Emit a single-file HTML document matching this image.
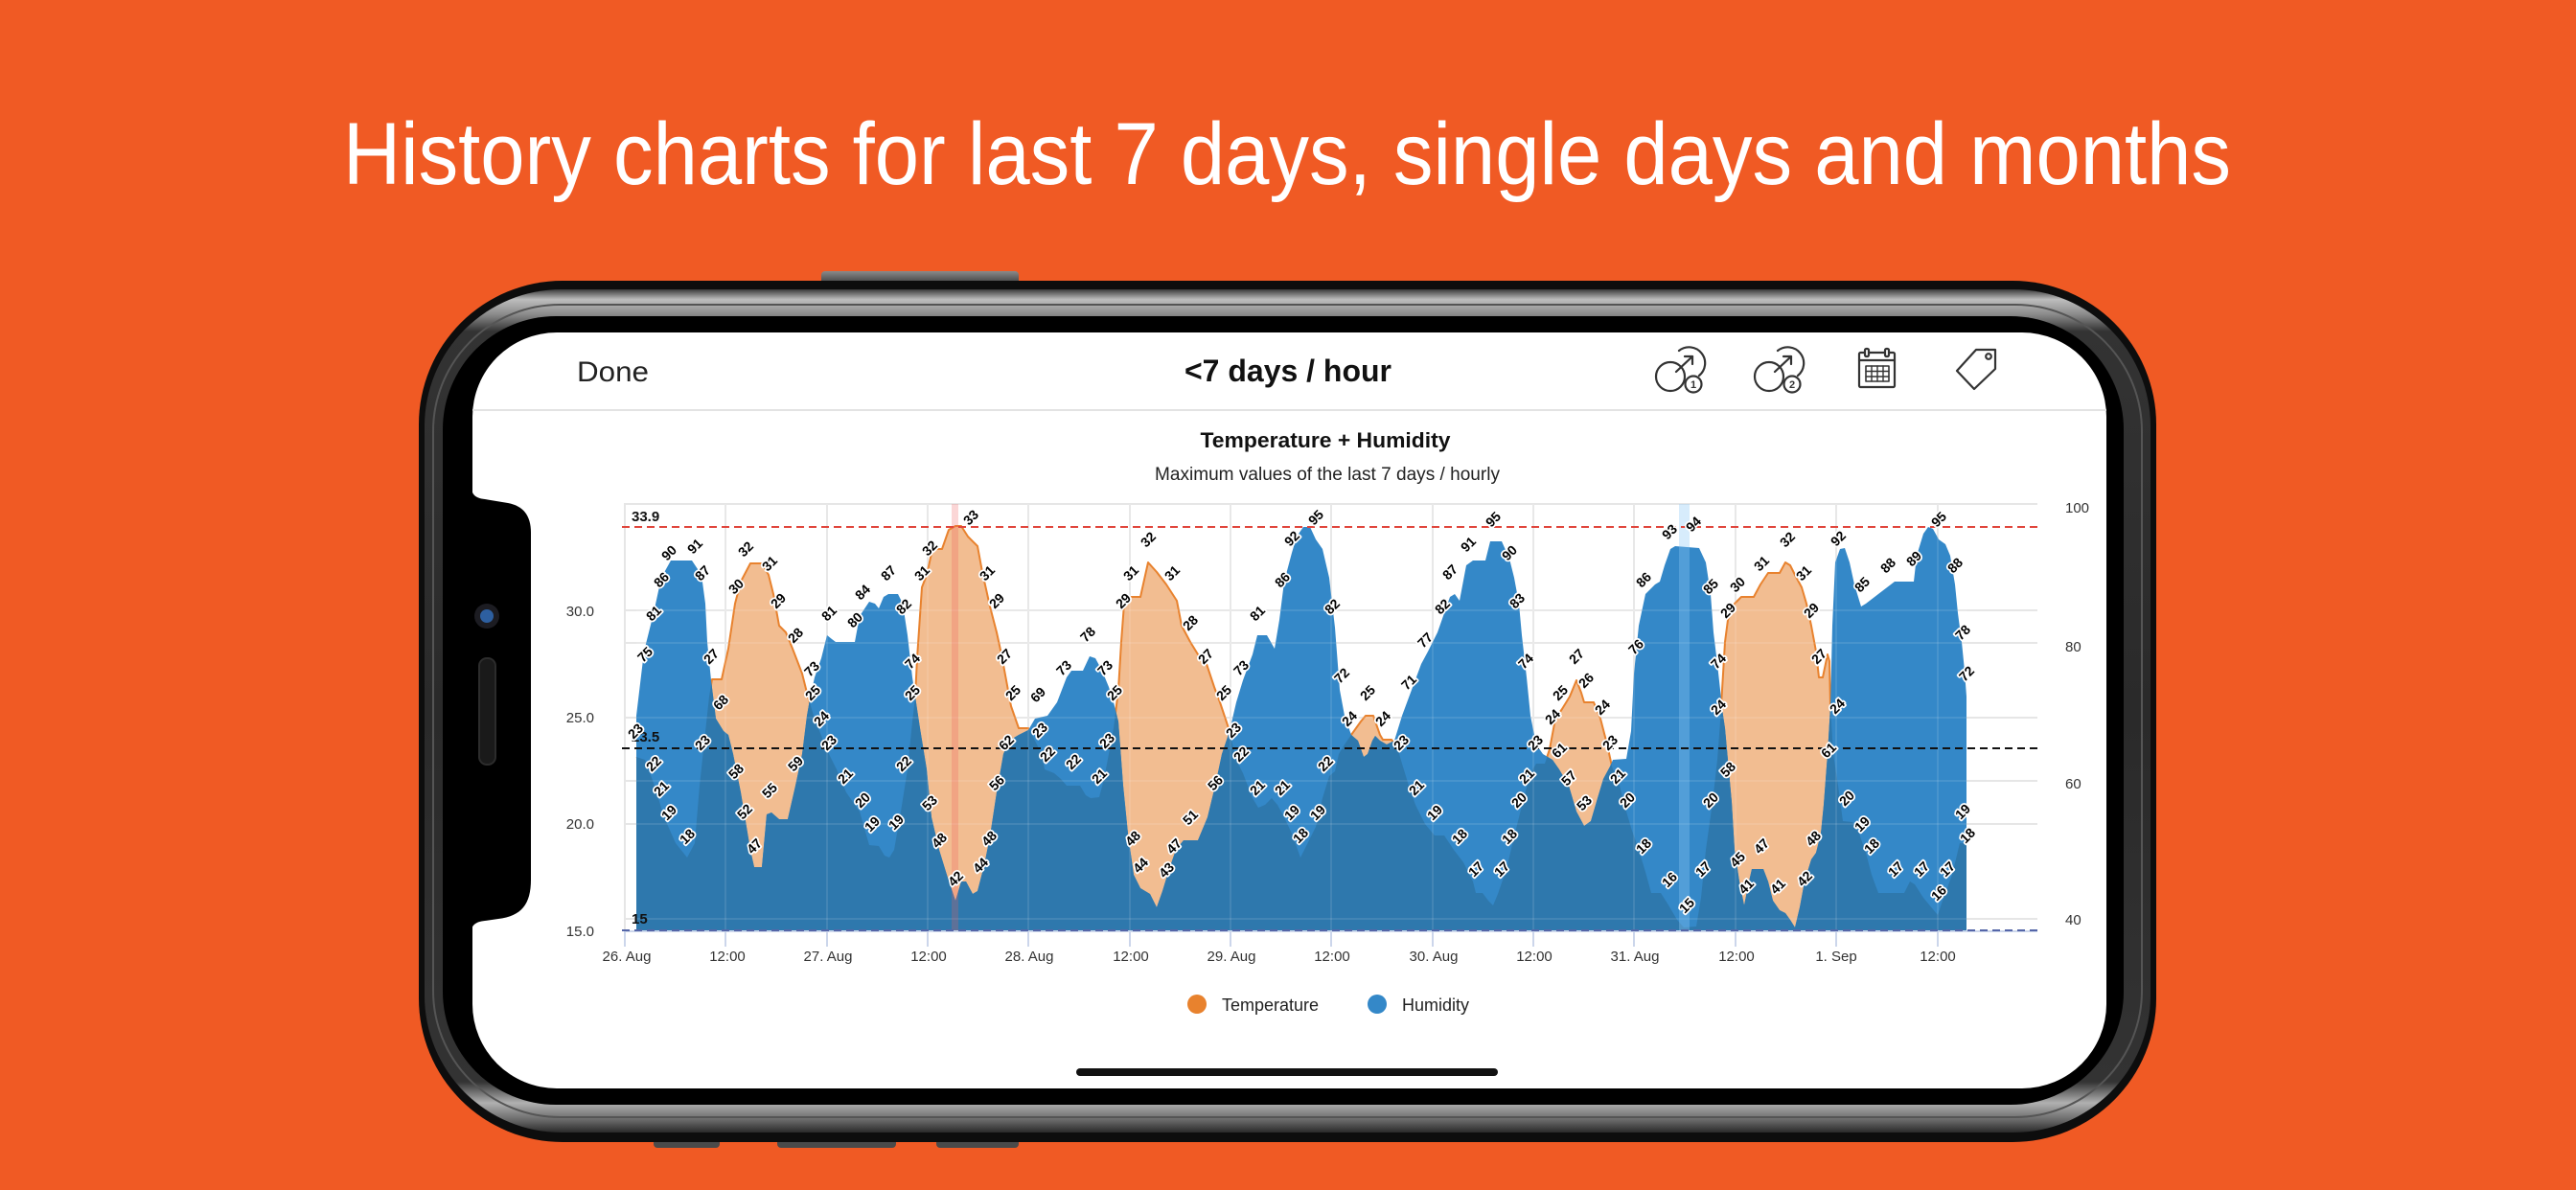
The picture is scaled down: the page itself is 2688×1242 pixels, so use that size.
<!DOCTYPE html>
<html>
<head>
<meta charset="utf-8">
<style>
html,body{margin:0;padding:0;background:#F05A24;}
body{width:2688px;height:1242px;overflow:hidden;}
svg{display:block;}
.dl text{font-family:"Liberation Sans",sans-serif;font-weight:bold;font-size:14px;fill:#000;stroke:#fff;stroke-width:3.5px;paint-order:stroke;stroke-linejoin:round;text-anchor:middle;}
.ax{font-family:"Liberation Sans",sans-serif;font-size:15px;fill:#333;}
</style>
</head>
<body>
<svg width="2688" height="1242" viewBox="0 0 2688 1242" xmlns="http://www.w3.org/2000/svg">
<defs>
<linearGradient id="band" x1="0" y1="0" x2="0" y2="1">
<stop offset="0" stop-color="#3a3a3a"/>
<stop offset="0.012" stop-color="#bdbdbd"/>
<stop offset="0.03" stop-color="#8a8a8a"/>
<stop offset="0.05" stop-color="#333"/>
<stop offset="0.5" stop-color="#2a2a2a"/>
<stop offset="0.94" stop-color="#333"/>
<stop offset="0.965" stop-color="#b0b0b0"/>
<stop offset="0.985" stop-color="#6a6a6a"/>
<stop offset="1" stop-color="#2a2a2a"/>
</linearGradient>
<linearGradient id="btn" x1="0" y1="0" x2="0" y2="1">
<stop offset="0" stop-color="#8a8a8a"/>
<stop offset="1" stop-color="#3a3a3a"/>
</linearGradient>
<clipPath id="tc">
<polygon points="664,972 664,790 673,793 683,820 693,853 705,880 717,895 725,880 730,820 735,773 740,727 743,709 753,709 760,677 767,630 773,607 783,588 795,588 802,600 807,620 813,653 820,660 827,677 837,703 843,727 850,750 863,783 873,803 883,827 897,847 907,882 917,883 923,893 928,895 933,887 940,847 947,803 952,753 955,727 957,687 962,613 967,600 973,573 983,573 990,553 997,549 1003,549 1010,560 1017,567 1020,570 1025,597 1033,633 1040,660 1045,683 1050,710 1055,737 1063,760 1073,760 1077,767 1087,787 1090,803 1100,807 1107,813 1113,820 1127,820 1133,830 1138,833 1147,832 1152,813 1157,787 1162,760 1167,720 1170,670 1173,630 1178,623 1190,623 1198,587 1207,597 1217,610 1228,627 1233,653 1242,670 1250,683 1258,690 1267,717 1273,733 1282,760 1290,793 1297,807 1307,833 1313,843 1320,840 1327,833 1333,840 1340,853 1348,870 1357,895 1363,883 1373,863 1380,833 1387,810 1393,805 1397,787 1403,777 1410,767 1420,753 1425,747 1433,747 1440,767 1443,772 1452,772 1458,780 1463,797 1470,820 1477,840 1487,860 1497,872 1507,872 1517,887 1527,900 1537,920 1540,932 1547,932 1553,940 1558,945 1563,933 1572,907 1580,873 1590,833 1597,807 1603,797 1612,797 1617,782 1623,750 1630,740 1638,727 1645,710 1650,723 1653,733 1663,733 1670,750 1677,777 1682,800 1690,820 1697,847 1703,867 1710,887 1717,910 1723,932 1733,932 1740,943 1750,960 1757,968 1770,967 1775,937 1780,887 1787,837 1792,793 1795,753 1797,720 1800,670 1803,647 1810,630 1817,623 1830,623 1837,610 1845,598 1857,598 1863,587 1868,590 1873,600 1880,613 1885,630 1890,653 1895,680 1898,707 1902,707 1907,683 1909,690 1910,737 1913,787 1918,820 1923,857 1933,858 1940,870 1947,890 1953,913 1960,932 1987,932 1993,920 1998,923 2007,937 2022,955 2027,940 2037,913 2045,880 2052,880 2052,972"/>
</clipPath>
</defs>

<!-- background -->
<rect x="0" y="0" width="2688" height="1242" fill="#F05A24"/>

<!-- heading -->
<text x="1343" y="192" font-family="Liberation Sans, sans-serif" font-size="92" fill="#fff" text-anchor="middle" textLength="1970" lengthAdjust="spacingAndGlyphs">History charts for last 7 days, single days and months</text>

<!-- phone buttons -->
<rect x="857" y="283" width="206" height="14" rx="4" fill="url(#btn)"/>
<rect x="682" y="1186" width="69" height="12" rx="4" fill="#4a4a4a"/>
<rect x="811" y="1186" width="124" height="12" rx="4" fill="#4a4a4a"/>
<rect x="977" y="1186" width="86" height="12" rx="4" fill="#4a4a4a"/>

<!-- phone body -->
<rect x="437" y="293" width="1813" height="899" rx="150" fill="#0d0d0d"/>
<rect x="443" y="302" width="1801" height="880" rx="143" fill="url(#band)"/>
<rect x="452" y="318" width="1783" height="848" rx="132" fill="none" stroke="#555" stroke-width="2"/>
<rect x="462" y="330" width="1754" height="823" rx="118" fill="#000"/>
<rect x="493" y="347" width="1705" height="789" rx="88" fill="#fff"/>

<!-- notch -->
<path d="M480,490 L492,490 L492,508 C492,516 496,520 506,521 L530,525 C546,528 554,538 554,556 L554,918 C554,944 544,956 520,959 L506,961 C496,962 492,966 492,972 L480,972 Z" fill="#000"/>
<circle cx="508" cy="643" r="13" fill="#1c1c22"/>
<circle cx="508" cy="643" r="7" fill="#2d5fa0"/>
<rect x="500" y="687" width="17" height="111" rx="8" fill="#1a1a1a" stroke="#2c2c2c" stroke-width="2"/>

<!-- nav bar -->
<text x="602" y="398" font-family="Liberation Sans, sans-serif" font-size="30" fill="#222" textLength="75" lengthAdjust="spacingAndGlyphs">Done</text>
<text x="1344" y="398" font-family="Liberation Sans, sans-serif" font-weight="bold" font-size="32" fill="#111" text-anchor="middle" textLength="216" lengthAdjust="spacingAndGlyphs">&lt;7 days / hour</text>
<line x1="493" y1="428" x2="2198" y2="428" stroke="#e3e3e3" stroke-width="2"/>

<!-- icons -->
<g stroke="#333" stroke-width="2.2" fill="none" stroke-linecap="round" stroke-linejoin="round">
  <path d="M1752,366 A13,13 0 0 1 1773,392"/>
  <circle cx="1743" cy="393" r="15"/>
  <line x1="1749" y1="388" x2="1766" y2="372"/>
  <polyline points="1758,372 1766,372 1766,380"/>
  <circle cx="1767" cy="401" r="8.5" fill="#fff"/>
  <path d="M1855,366 A13,13 0 0 1 1876,392"/>
  <circle cx="1846" cy="393" r="15"/>
  <line x1="1852" y1="388" x2="1869" y2="372"/>
  <polyline points="1861,372 1869,372 1869,380"/>
  <circle cx="1870" cy="401" r="8.5" fill="#fff"/>
  <rect x="1940" y="368" width="37" height="36" rx="1.5"/>
  <line x1="1940" y1="376" x2="1977" y2="376"/>
  <rect x="1946" y="364" width="4" height="8" rx="1.5" fill="#fff"/>
  <rect x="1967" y="364" width="4" height="8" rx="1.5" fill="#fff"/>
  <rect x="1947" y="382" width="24" height="16" stroke-width="1.6"/>
  <line x1="1953" y1="382" x2="1953" y2="398" stroke-width="1.4"/>
  <line x1="1959" y1="382" x2="1959" y2="398" stroke-width="1.4"/>
  <line x1="1965" y1="382" x2="1965" y2="398" stroke-width="1.4"/>
  <line x1="1947" y1="387.5" x2="1971" y2="387.5" stroke-width="1.4"/>
  <line x1="1947" y1="393" x2="1971" y2="393" stroke-width="1.4"/>
  <polygon points="2042,387 2062,365 2082,365 2082,385 2060,406"/>
  <circle cx="2075" cy="372" r="2.8"/>
</g>
<text x="1767" y="405" font-family="Liberation Sans, sans-serif" font-size="11" font-weight="bold" fill="#333" text-anchor="middle">1</text>
<text x="1870" y="405" font-family="Liberation Sans, sans-serif" font-size="11" font-weight="bold" fill="#333" text-anchor="middle">2</text>

<!-- chart titles -->
<text x="1383" y="467" font-family="Liberation Sans, sans-serif" font-weight="bold" font-size="22.5" fill="#111" text-anchor="middle" textLength="261" lengthAdjust="spacingAndGlyphs">Temperature + Humidity</text>
<text x="1385" y="501" font-family="Liberation Sans, sans-serif" font-size="19" fill="#222" text-anchor="middle" textLength="360" lengthAdjust="spacingAndGlyphs">Maximum values of the last 7 days / hourly</text>

<!-- gridlines -->
<g stroke="#e6e6e6" stroke-width="2">
  <line x1="651" y1="526" x2="2126" y2="526"/>
  <line x1="651" y1="637" x2="2126" y2="637"/>
  <line x1="651" y1="671" x2="2126" y2="671"/>
  <line x1="651" y1="749" x2="2126" y2="749"/>
  <line x1="651" y1="815" x2="2126" y2="815"/>
  <line x1="651" y1="860" x2="2126" y2="860"/>
  <line x1="651" y1="959" x2="2126" y2="959"/>
  <line x1="652" y1="526" x2="652" y2="972"/>
  <line x1="757" y1="526" x2="757" y2="972"/>
  <line x1="863" y1="526" x2="863" y2="972"/>
  <line x1="968" y1="526" x2="968" y2="972"/>
  <line x1="1073" y1="526" x2="1073" y2="972"/>
  <line x1="1179" y1="526" x2="1179" y2="972"/>
  <line x1="1284" y1="526" x2="1284" y2="972"/>
  <line x1="1389" y1="526" x2="1389" y2="972"/>
  <line x1="1495" y1="526" x2="1495" y2="972"/>
  <line x1="1600" y1="526" x2="1600" y2="972"/>
  <line x1="1705" y1="526" x2="1705" y2="972"/>
  <line x1="1811" y1="526" x2="1811" y2="972"/>
  <line x1="1916" y1="526" x2="1916" y2="972"/>
  <line x1="2022" y1="526" x2="2022" y2="972"/>
</g>

<!-- temperature area -->
<polygon fill="#F2BD91" points="664,972 664,790 673,793 683,820 693,853 705,880 717,895 725,880 730,820 735,773 740,727 743,709 753,709 760,677 767,630 773,607 783,588 795,588 802,600 807,620 813,653 820,660 827,677 837,703 843,727 850,750 863,783 873,803 883,827 897,847 907,882 917,883 923,893 928,895 933,887 940,847 947,803 952,753 955,727 957,687 962,613 967,600 973,573 983,573 990,553 997,549 1003,549 1010,560 1017,567 1020,570 1025,597 1033,633 1040,660 1045,683 1050,710 1055,737 1063,760 1073,760 1077,767 1087,787 1090,803 1100,807 1107,813 1113,820 1127,820 1133,830 1138,833 1147,832 1152,813 1157,787 1162,760 1167,720 1170,670 1173,630 1178,623 1190,623 1198,587 1207,597 1217,610 1228,627 1233,653 1242,670 1250,683 1258,690 1267,717 1273,733 1282,760 1290,793 1297,807 1307,833 1313,843 1320,840 1327,833 1333,840 1340,853 1348,870 1357,895 1363,883 1373,863 1380,833 1387,810 1393,805 1397,787 1403,777 1410,767 1420,753 1425,747 1433,747 1440,767 1443,772 1452,772 1458,780 1463,797 1470,820 1477,840 1487,860 1497,872 1507,872 1517,887 1527,900 1537,920 1540,932 1547,932 1553,940 1558,945 1563,933 1572,907 1580,873 1590,833 1597,807 1603,797 1612,797 1617,782 1623,750 1630,740 1638,727 1645,710 1650,723 1653,733 1663,733 1670,750 1677,777 1682,800 1690,820 1697,847 1703,867 1710,887 1717,910 1723,932 1733,932 1740,943 1750,960 1757,968 1770,967 1775,937 1780,887 1787,837 1792,793 1795,753 1797,720 1800,670 1803,647 1810,630 1817,623 1830,623 1837,610 1845,598 1857,598 1863,587 1868,590 1873,600 1880,613 1885,630 1890,653 1895,680 1898,707 1902,707 1907,683 1909,690 1910,737 1913,787 1918,820 1923,857 1933,858 1940,870 1947,890 1953,913 1960,932 1987,932 1993,920 1998,923 2007,937 2022,955 2027,940 2037,913 2045,880 2052,880 2052,972"/>
<polyline fill="none" stroke="#E8822E" stroke-width="2" stroke-linejoin="round" points="664,790 673,793 683,820 693,853 705,880 717,895 725,880 730,820 735,773 740,727 743,709 753,709 760,677 767,630 773,607 783,588 795,588 802,600 807,620 813,653 820,660 827,677 837,703 843,727 850,750 863,783 873,803 883,827 897,847 907,882 917,883 923,893 928,895 933,887 940,847 947,803 952,753 955,727 957,687 962,613 967,600 973,573 983,573 990,553 997,549 1003,549 1010,560 1017,567 1020,570 1025,597 1033,633 1040,660 1045,683 1050,710 1055,737 1063,760 1073,760 1077,767 1087,787 1090,803 1100,807 1107,813 1113,820 1127,820 1133,830 1138,833 1147,832 1152,813 1157,787 1162,760 1167,720 1170,670 1173,630 1178,623 1190,623 1198,587 1207,597 1217,610 1228,627 1233,653 1242,670 1250,683 1258,690 1267,717 1273,733 1282,760 1290,793 1297,807 1307,833 1313,843 1320,840 1327,833 1333,840 1340,853 1348,870 1357,895 1363,883 1373,863 1380,833 1387,810 1393,805 1397,787 1403,777 1410,767 1420,753 1425,747 1433,747 1440,767 1443,772 1452,772 1458,780 1463,797 1470,820 1477,840 1487,860 1497,872 1507,872 1517,887 1527,900 1537,920 1540,932 1547,932 1553,940 1558,945 1563,933 1572,907 1580,873 1590,833 1597,807 1603,797 1612,797 1617,782 1623,750 1630,740 1638,727 1645,710 1650,723 1653,733 1663,733 1670,750 1677,777 1682,800 1690,820 1697,847 1703,867 1710,887 1717,910 1723,932 1733,932 1740,943 1750,960 1757,968 1770,967 1775,937 1780,887 1787,837 1792,793 1795,753 1797,720 1800,670 1803,647 1810,630 1817,623 1830,623 1837,610 1845,598 1857,598 1863,587 1868,590 1873,600 1880,613 1885,630 1890,653 1895,680 1898,707 1902,707 1907,683 1909,690 1910,737 1913,787 1918,820 1923,857 1933,858 1940,870 1947,890 1953,913 1960,932 1987,932 1993,920 1998,923 2007,937 2022,955 2027,940 2037,913 2045,880 2052,880"/>

<!-- humidity area -->
<g id="hum">
<polygon fill="#3488C8" points="664,972 664,747 672,680 682,640 690,603 700,585 722,585 732,600 736,630 738,670 742,710 747,750 755,763 760,767 765,787 773,827 783,887 787,905 795,905 800,850 805,848 813,855 822,855 830,820 837,787 842,747 845,730 850,707 857,687 863,663 868,667 872,670 892,670 897,643 907,628 913,630 917,635 922,623 927,620 937,620 942,630 947,663 952,707 955,727 960,760 967,803 972,853 980,887 988,913 997,940 1003,920 1008,920 1015,933 1020,930 1027,903 1033,873 1040,827 1047,787 1053,773 1063,767 1073,762 1080,750 1093,747 1103,733 1113,707 1118,700 1130,700 1137,685 1143,687 1150,700 1157,717 1162,733 1167,753 1172,820 1177,870 1183,913 1190,927 1200,933 1207,947 1213,930 1220,907 1227,887 1235,877 1250,877 1260,853 1268,820 1275,787 1283,763 1290,733 1297,710 1307,683 1312,663 1322,663 1330,677 1335,647 1340,607 1348,577 1353,560 1360,550 1367,550 1373,563 1380,573 1387,603 1393,655 1398,720 1403,747 1410,767 1417,773 1423,790 1427,787 1432,773 1435,768 1440,773 1447,777 1455,773 1463,747 1473,720 1483,693 1490,680 1500,660 1507,640 1513,623 1518,620 1523,627 1530,590 1537,585 1550,585 1555,565 1567,565 1575,583 1580,603 1585,630 1588,663 1593,707 1597,747 1603,777 1610,787 1620,793 1627,803 1637,820 1645,847 1653,862 1660,857 1667,833 1673,813 1680,800 1683,793 1697,792 1702,763 1705,703 1710,653 1717,620 1727,610 1732,607 1737,590 1743,573 1748,570 1773,572 1780,587 1785,620 1788,660 1792,693 1795,720 1797,740 1800,760 1803,793 1807,837 1810,887 1815,920 1820,945 1825,920 1828,907 1840,907 1845,920 1850,940 1857,950 1863,953 1868,960 1873,968 1878,947 1883,920 1890,897 1895,890 1900,870 1903,840 1907,787 1910,737 1912,653 1915,587 1920,573 1925,572 1930,587 1935,610 1942,633 1947,630 1960,620 1977,607 1997,607 2000,580 2007,557 2012,550 2017,552 2023,563 2030,568 2035,580 2040,610 2043,640 2047,670 2050,700 2052,727 2052,972"/>
</g>
<g clip-path="url(#tc)">
<polygon fill="#2E78AD" points="664,972 664,747 672,680 682,640 690,603 700,585 722,585 732,600 736,630 738,670 742,710 747,750 755,763 760,767 765,787 773,827 783,887 787,905 795,905 800,850 805,848 813,855 822,855 830,820 837,787 842,747 845,730 850,707 857,687 863,663 868,667 872,670 892,670 897,643 907,628 913,630 917,635 922,623 927,620 937,620 942,630 947,663 952,707 955,727 960,760 967,803 972,853 980,887 988,913 997,940 1003,920 1008,920 1015,933 1020,930 1027,903 1033,873 1040,827 1047,787 1053,773 1063,767 1073,762 1080,750 1093,747 1103,733 1113,707 1118,700 1130,700 1137,685 1143,687 1150,700 1157,717 1162,733 1167,753 1172,820 1177,870 1183,913 1190,927 1200,933 1207,947 1213,930 1220,907 1227,887 1235,877 1250,877 1260,853 1268,820 1275,787 1283,763 1290,733 1297,710 1307,683 1312,663 1322,663 1330,677 1335,647 1340,607 1348,577 1353,560 1360,550 1367,550 1373,563 1380,573 1387,603 1393,655 1398,720 1403,747 1410,767 1417,773 1423,790 1427,787 1432,773 1435,768 1440,773 1447,777 1455,773 1463,747 1473,720 1483,693 1490,680 1500,660 1507,640 1513,623 1518,620 1523,627 1530,590 1537,585 1550,585 1555,565 1567,565 1575,583 1580,603 1585,630 1588,663 1593,707 1597,747 1603,777 1610,787 1620,793 1627,803 1637,820 1645,847 1653,862 1660,857 1667,833 1673,813 1680,800 1683,793 1697,792 1702,763 1705,703 1710,653 1717,620 1727,610 1732,607 1737,590 1743,573 1748,570 1773,572 1780,587 1785,620 1788,660 1792,693 1795,720 1797,740 1800,760 1803,793 1807,837 1810,887 1815,920 1820,945 1825,920 1828,907 1840,907 1845,920 1850,940 1857,950 1863,953 1868,960 1873,968 1878,947 1883,920 1890,897 1895,890 1900,870 1903,840 1907,787 1910,737 1912,653 1915,587 1920,573 1925,572 1930,587 1935,610 1942,633 1947,630 1960,620 1977,607 1997,607 2000,580 2007,557 2012,550 2017,552 2023,563 2030,568 2035,580 2040,610 2043,640 2047,670 2050,700 2052,727 2052,972"/>
</g>

<!-- faint grid over series -->
<g stroke="rgba(255,255,255,0.10)" stroke-width="2">
  <line x1="664" y1="637" x2="2052" y2="637"/>
  <line x1="664" y1="671" x2="2052" y2="671"/>
  <line x1="664" y1="749" x2="2052" y2="749"/>
  <line x1="664" y1="815" x2="2052" y2="815"/>
  <line x1="664" y1="860" x2="2052" y2="860"/>
  <line x1="664" y1="959" x2="2052" y2="959"/>
  <line x1="757" y1="526" x2="757" y2="972"/>
  <line x1="863" y1="526" x2="863" y2="972"/>
  <line x1="968" y1="526" x2="968" y2="972"/>
  <line x1="1073" y1="526" x2="1073" y2="972"/>
  <line x1="1179" y1="526" x2="1179" y2="972"/>
  <line x1="1284" y1="526" x2="1284" y2="972"/>
  <line x1="1389" y1="526" x2="1389" y2="972"/>
  <line x1="1495" y1="526" x2="1495" y2="972"/>
  <line x1="1600" y1="526" x2="1600" y2="972"/>
  <line x1="1705" y1="526" x2="1705" y2="972"/>
  <line x1="1811" y1="526" x2="1811" y2="972"/>
  <line x1="1916" y1="526" x2="1916" y2="972"/>
  <line x1="2022" y1="526" x2="2022" y2="972"/>
</g>

<!-- highlight bands -->
<rect x="993" y="526" width="7" height="446" fill="rgba(240,90,90,0.25)"/>
<rect x="1752" y="526" width="11" height="446" fill="rgba(140,200,245,0.35)"/>

<!-- axis line and ticks -->
<g stroke="#ccd6eb" stroke-width="2">
  <line x1="651" y1="972" x2="2126" y2="972"/>
  <line x1="652" y1="972" x2="652" y2="988"/>
  <line x1="757" y1="972" x2="757" y2="988"/>
  <line x1="863" y1="972" x2="863" y2="988"/>
  <line x1="968" y1="972" x2="968" y2="988"/>
  <line x1="1073" y1="972" x2="1073" y2="988"/>
  <line x1="1179" y1="972" x2="1179" y2="988"/>
  <line x1="1284" y1="972" x2="1284" y2="988"/>
  <line x1="1389" y1="972" x2="1389" y2="988"/>
  <line x1="1495" y1="972" x2="1495" y2="988"/>
  <line x1="1600" y1="972" x2="1600" y2="988"/>
  <line x1="1705" y1="972" x2="1705" y2="988"/>
  <line x1="1811" y1="972" x2="1811" y2="988"/>
  <line x1="1916" y1="972" x2="1916" y2="988"/>
  <line x1="2022" y1="972" x2="2022" y2="988"/>
</g>

<!-- reference lines -->
<line x1="649" y1="550" x2="2126" y2="550" stroke="#E0463C" stroke-width="2" stroke-dasharray="8,5"/>
<line x1="649" y1="781" x2="2126" y2="781" stroke="#111" stroke-width="2" stroke-dasharray="8,5"/>
<line x1="649" y1="971" x2="2126" y2="971" stroke="#5566A8" stroke-width="2" stroke-dasharray="8,5"/>
<g font-family="Liberation Sans, sans-serif" font-size="15" fill="#111" font-weight="bold">
  <text x="659" y="544">33.9</text>
  <text x="659" y="774">23.5</text>
  <text x="659" y="964">15</text>
</g>

<!-- data labels -->
<g class="dl">
<text transform="translate(663 763) rotate(-45)" y="5">23</text>
<text transform="translate(682 797) rotate(-45)" y="5">22</text>
<text transform="translate(690 823) rotate(-45)" y="5">21</text>
<text transform="translate(698 848) rotate(-45)" y="5">19</text>
<text transform="translate(717 873) rotate(-45)" y="5">18</text>
<text transform="translate(733 775) rotate(-45)" y="5">23</text>
<text transform="translate(742 685) rotate(-45)" y="5">27</text>
<text transform="translate(768 612) rotate(-45)" y="5">30</text>
<text transform="translate(778 573) rotate(-45)" y="5">32</text>
<text transform="translate(803 588) rotate(-45)" y="5">31</text>
<text transform="translate(812 627) rotate(-45)" y="5">29</text>
<text transform="translate(830 663) rotate(-45)" y="5">28</text>
<text transform="translate(848 723) rotate(-45)" y="5">25</text>
<text transform="translate(857 750) rotate(-45)" y="5">24</text>
<text transform="translate(865 775) rotate(-45)" y="5">23</text>
<text transform="translate(882 810) rotate(-45)" y="5">21</text>
<text transform="translate(900 835) rotate(-45)" y="5">20</text>
<text transform="translate(910 860) rotate(-45)" y="5">19</text>
<text transform="translate(935 858) rotate(-45)" y="5">19</text>
<text transform="translate(943 797) rotate(-45)" y="5">22</text>
<text transform="translate(952 723) rotate(-45)" y="5">25</text>
<text transform="translate(962 598) rotate(-45)" y="5">31</text>
<text transform="translate(970 572) rotate(-45)" y="5">32</text>
<text transform="translate(1013 540) rotate(-45)" y="5">33</text>
<text transform="translate(673 683) rotate(-45)" y="5">75</text>
<text transform="translate(682 640) rotate(-45)" y="5">81</text>
<text transform="translate(690 605) rotate(-45)" y="5">86</text>
<text transform="translate(698 577) rotate(-45)" y="5">90</text>
<text transform="translate(725 570) rotate(-45)" y="5">91</text>
<text transform="translate(733 598) rotate(-45)" y="5">87</text>
<text transform="translate(752 733) rotate(-45)" y="5">68</text>
<text transform="translate(768 805) rotate(-45)" y="5">58</text>
<text transform="translate(777 847) rotate(-45)" y="5">52</text>
<text transform="translate(787 883) rotate(-45)" y="5">47</text>
<text transform="translate(803 825) rotate(-45)" y="5">55</text>
<text transform="translate(830 797) rotate(-45)" y="5">59</text>
<text transform="translate(847 698) rotate(-45)" y="5">73</text>
<text transform="translate(865 640) rotate(-45)" y="5">81</text>
<text transform="translate(892 647) rotate(-45)" y="5">80</text>
<text transform="translate(900 618) rotate(-45)" y="5">84</text>
<text transform="translate(927 598) rotate(-45)" y="5">87</text>
<text transform="translate(943 633) rotate(-45)" y="5">82</text>
<text transform="translate(952 690) rotate(-45)" y="5">74</text>
<text transform="translate(970 838) rotate(-45)" y="5">53</text>
<text transform="translate(980 877) rotate(-45)" y="5">48</text>
<text transform="translate(997 917) rotate(-45)" y="5">42</text>
<text transform="translate(1023 903) rotate(-45)" y="5">44</text>
<text transform="translate(1032 875) rotate(-45)" y="5">48</text>
<text transform="translate(1030 598) rotate(-45)" y="5">31</text>
<text transform="translate(1040 627) rotate(-45)" y="5">29</text>
<text transform="translate(1048 685) rotate(-45)" y="5">27</text>
<text transform="translate(1057 723) rotate(-45)" y="5">25</text>
<text transform="translate(1083 725) rotate(-45)" y="5">69</text>
<text transform="translate(1050 775) rotate(-45)" y="5">62</text>
<text transform="translate(1040 817) rotate(-45)" y="5">56</text>
<text transform="translate(1085 762) rotate(-45)" y="5">23</text>
<text transform="translate(1093 787) rotate(-45)" y="5">22</text>
<text transform="translate(1120 795) rotate(-45)" y="5">22</text>
<text transform="translate(1147 810) rotate(-45)" y="5">21</text>
<text transform="translate(1155 773) rotate(-45)" y="5">23</text>
<text transform="translate(1110 697) rotate(-45)" y="5">73</text>
<text transform="translate(1135 662) rotate(-45)" y="5">78</text>
<text transform="translate(1153 697) rotate(-45)" y="5">73</text>
<text transform="translate(1163 723) rotate(-45)" y="5">25</text>
<text transform="translate(1172 627) rotate(-45)" y="5">29</text>
<text transform="translate(1180 598) rotate(-45)" y="5">31</text>
<text transform="translate(1198 563) rotate(-45)" y="5">32</text>
<text transform="translate(1223 598) rotate(-45)" y="5">31</text>
<text transform="translate(1242 650) rotate(-45)" y="5">28</text>
<text transform="translate(1258 685) rotate(-45)" y="5">27</text>
<text transform="translate(1277 723) rotate(-45)" y="5">25</text>
<text transform="translate(1287 762) rotate(-45)" y="5">23</text>
<text transform="translate(1295 787) rotate(-45)" y="5">22</text>
<text transform="translate(1268 817) rotate(-45)" y="5">56</text>
<text transform="translate(1242 853) rotate(-45)" y="5">51</text>
<text transform="translate(1225 883) rotate(-45)" y="5">47</text>
<text transform="translate(1217 908) rotate(-45)" y="5">43</text>
<text transform="translate(1190 903) rotate(-45)" y="5">44</text>
<text transform="translate(1182 875) rotate(-45)" y="5">48</text>
<text transform="translate(1295 697) rotate(-45)" y="5">73</text>
<text transform="translate(1312 640) rotate(-45)" y="5">81</text>
<text transform="translate(1338 605) rotate(-45)" y="5">86</text>
<text transform="translate(1348 562) rotate(-45)" y="5">92</text>
<text transform="translate(1373 540) rotate(-45)" y="5">95</text>
<text transform="translate(1390 633) rotate(-45)" y="5">82</text>
<text transform="translate(1312 822) rotate(-45)" y="5">21</text>
<text transform="translate(1338 822) rotate(-45)" y="5">21</text>
<text transform="translate(1348 848) rotate(-45)" y="5">19</text>
<text transform="translate(1357 872) rotate(-45)" y="5">18</text>
<text transform="translate(1375 848) rotate(-45)" y="5">19</text>
<text transform="translate(1383 797) rotate(-45)" y="5">22</text>
<text transform="translate(1400 705) rotate(-45)" y="5">72</text>
<text transform="translate(1408 750) rotate(-45)" y="5">24</text>
<text transform="translate(1427 723) rotate(-45)" y="5">25</text>
<text transform="translate(1443 750) rotate(-45)" y="5">24</text>
<text transform="translate(1462 775) rotate(-45)" y="5">23</text>
<text transform="translate(1470 712) rotate(-45)" y="5">71</text>
<text transform="translate(1487 668) rotate(-45)" y="5">77</text>
<text transform="translate(1505 633) rotate(-45)" y="5">82</text>
<text transform="translate(1513 597) rotate(-45)" y="5">87</text>
<text transform="translate(1532 568) rotate(-45)" y="5">91</text>
<text transform="translate(1558 542) rotate(-45)" y="5">95</text>
<text transform="translate(1575 577) rotate(-45)" y="5">90</text>
<text transform="translate(1583 627) rotate(-45)" y="5">83</text>
<text transform="translate(1592 690) rotate(-45)" y="5">74</text>
<text transform="translate(1478 822) rotate(-45)" y="5">21</text>
<text transform="translate(1497 848) rotate(-45)" y="5">19</text>
<text transform="translate(1523 873) rotate(-45)" y="5">18</text>
<text transform="translate(1540 907) rotate(-45)" y="5">17</text>
<text transform="translate(1567 907) rotate(-45)" y="5">17</text>
<text transform="translate(1575 873) rotate(-45)" y="5">18</text>
<text transform="translate(1585 835) rotate(-45)" y="5">20</text>
<text transform="translate(1593 810) rotate(-45)" y="5">21</text>
<text transform="translate(1602 775) rotate(-45)" y="5">23</text>
<text transform="translate(1627 783) rotate(-45)" y="5">61</text>
<text transform="translate(1637 812) rotate(-45)" y="5">57</text>
<text transform="translate(1653 838) rotate(-45)" y="5">53</text>
<text transform="translate(1620 748) rotate(-45)" y="5">24</text>
<text transform="translate(1628 723) rotate(-45)" y="5">25</text>
<text transform="translate(1645 685) rotate(-45)" y="5">27</text>
<text transform="translate(1655 710) rotate(-45)" y="5">26</text>
<text transform="translate(1672 738) rotate(-45)" y="5">24</text>
<text transform="translate(1680 775) rotate(-45)" y="5">23</text>
<text transform="translate(1688 810) rotate(-45)" y="5">21</text>
<text transform="translate(1698 835) rotate(-45)" y="5">20</text>
<text transform="translate(1715 883) rotate(-45)" y="5">18</text>
<text transform="translate(1742 918) rotate(-45)" y="5">16</text>
<text transform="translate(1760 945) rotate(-45)" y="5">15</text>
<text transform="translate(1707 675) rotate(-45)" y="5">76</text>
<text transform="translate(1715 605) rotate(-45)" y="5">86</text>
<text transform="translate(1742 555) rotate(-45)" y="5">93</text>
<text transform="translate(1767 547) rotate(-45)" y="5">94</text>
<text transform="translate(1785 612) rotate(-45)" y="5">85</text>
<text transform="translate(1793 690) rotate(-45)" y="5">74</text>
<text transform="translate(1793 738) rotate(-45)" y="5">24</text>
<text transform="translate(1803 803) rotate(-45)" y="5">58</text>
<text transform="translate(1785 835) rotate(-45)" y="5">20</text>
<text transform="translate(1777 907) rotate(-45)" y="5">17</text>
<text transform="translate(1803 637) rotate(-45)" y="5">29</text>
<text transform="translate(1813 610) rotate(-45)" y="5">30</text>
<text transform="translate(1838 588) rotate(-45)" y="5">31</text>
<text transform="translate(1865 563) rotate(-45)" y="5">32</text>
<text transform="translate(1882 598) rotate(-45)" y="5">31</text>
<text transform="translate(1890 637) rotate(-45)" y="5">29</text>
<text transform="translate(1898 685) rotate(-45)" y="5">27</text>
<text transform="translate(1917 737) rotate(-45)" y="5">24</text>
<text transform="translate(1908 783) rotate(-45)" y="5">61</text>
<text transform="translate(1892 875) rotate(-45)" y="5">48</text>
<text transform="translate(1883 917) rotate(-45)" y="5">42</text>
<text transform="translate(1855 925) rotate(-45)" y="5">41</text>
<text transform="translate(1838 883) rotate(-45)" y="5">47</text>
<text transform="translate(1813 897) rotate(-45)" y="5">45</text>
<text transform="translate(1822 925) rotate(-45)" y="5">41</text>
<text transform="translate(1918 562) rotate(-45)" y="5">92</text>
<text transform="translate(1943 610) rotate(-45)" y="5">85</text>
<text transform="translate(1970 590) rotate(-45)" y="5">88</text>
<text transform="translate(1997 583) rotate(-45)" y="5">89</text>
<text transform="translate(2023 542) rotate(-45)" y="5">95</text>
<text transform="translate(2040 590) rotate(-45)" y="5">88</text>
<text transform="translate(2048 660) rotate(-45)" y="5">78</text>
<text transform="translate(2052 703) rotate(-45)" y="5">72</text>
<text transform="translate(1927 833) rotate(-45)" y="5">20</text>
<text transform="translate(1943 860) rotate(-45)" y="5">19</text>
<text transform="translate(1953 883) rotate(-45)" y="5">18</text>
<text transform="translate(1978 907) rotate(-45)" y="5">17</text>
<text transform="translate(2005 907) rotate(-45)" y="5">17</text>
<text transform="translate(2032 907) rotate(-45)" y="5">17</text>
<text transform="translate(2023 932) rotate(-45)" y="5">16</text>
<text transform="translate(2048 847) rotate(-45)" y="5">19</text>
<text transform="translate(2053 872) rotate(-45)" y="5">18</text>
</g>

<!-- axis labels -->
<g class="ax" text-anchor="end">
  <text x="620" y="643">30.0</text>
  <text x="620" y="754">25.0</text>
  <text x="620" y="865">20.0</text>
  <text x="620" y="977">15.0</text>
</g>
<g class="ax">
  <text x="2155" y="535">100</text>
  <text x="2155" y="680">80</text>
  <text x="2155" y="823">60</text>
  <text x="2155" y="965">40</text>
</g>
<g class="ax" text-anchor="middle">
  <text x="654" y="1003">26. Aug</text>
  <text x="759" y="1003">12:00</text>
  <text x="864" y="1003">27. Aug</text>
  <text x="969" y="1003">12:00</text>
  <text x="1074" y="1003">28. Aug</text>
  <text x="1180" y="1003">12:00</text>
  <text x="1285" y="1003">29. Aug</text>
  <text x="1390" y="1003">12:00</text>
  <text x="1496" y="1003">30. Aug</text>
  <text x="1601" y="1003">12:00</text>
  <text x="1706" y="1003">31. Aug</text>
  <text x="1812" y="1003">12:00</text>
  <text x="1916" y="1003">1. Sep</text>
  <text x="2022" y="1003">12:00</text>
</g>

<!-- legend -->
<circle cx="1249" cy="1048" r="10" fill="#E8822E"/>
<text x="1275" y="1055" font-family="Liberation Sans, sans-serif" font-size="18" fill="#222">Temperature</text>
<circle cx="1437" cy="1048" r="10" fill="#3488C8"/>
<text x="1463" y="1055" font-family="Liberation Sans, sans-serif" font-size="18" fill="#222">Humidity</text>

<!-- home indicator -->
<rect x="1123" y="1115" width="440" height="8" rx="4" fill="#111"/>
</svg>
</body>
</html>
